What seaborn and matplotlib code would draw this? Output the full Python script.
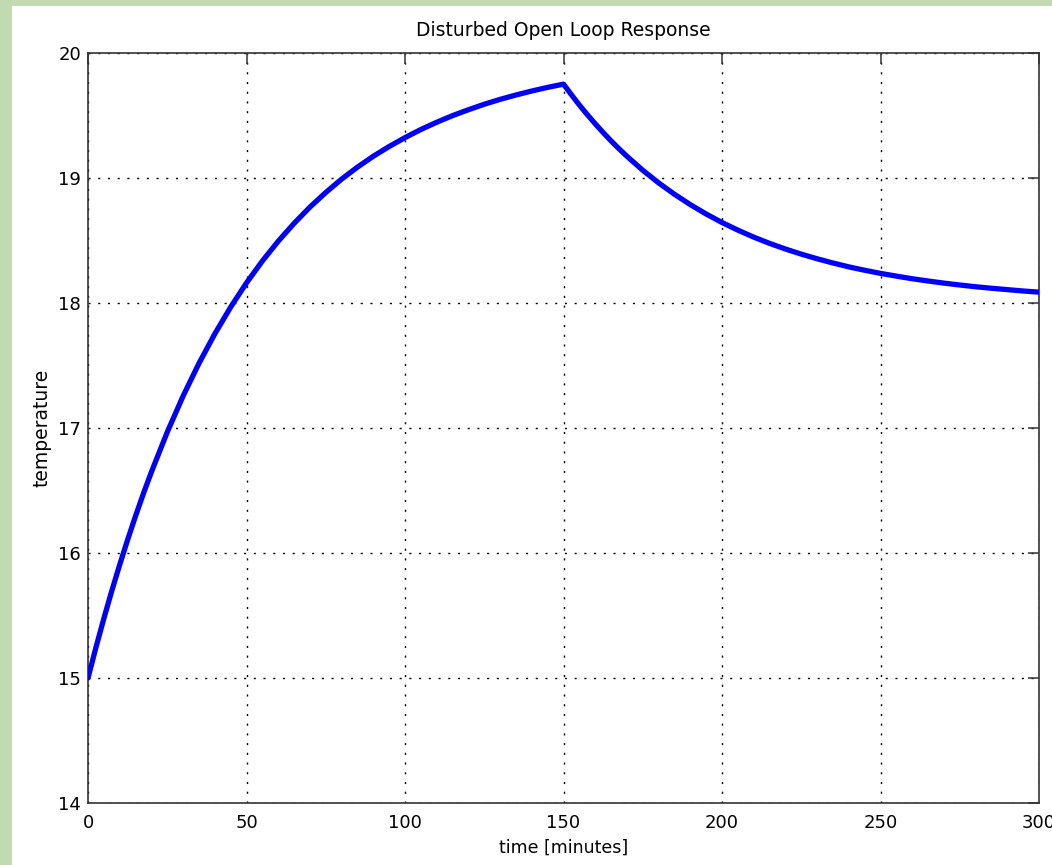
import numpy as np
import pandas as pd
import matplotlib
matplotlib.use("Agg")
import matplotlib.pyplot as plt
from matplotlib.patches import Rectangle
import seaborn as sns

# Open-loop temperature response: heating until t=150, then disturbance decay
time_min = [0, 2.5, 5, 7.5, 10, 12.5, 15, 17.5, 20, 25, 30, 35, 40, 45, 50, 55, 60,
            65, 70, 75, 80, 85, 90, 95, 100, 105, 110, 115, 120, 125, 130, 135,
            140, 145, 150, 152.5, 155, 157.5, 160, 162.5, 165, 167.5, 170, 175,
            180, 185, 190, 195, 200, 205, 210, 215, 220, 225, 230, 235, 240, 245,
            250, 255, 260, 265, 270, 275, 280, 285, 290, 295, 300]
temperature = [15.000, 15.244, 15.476, 15.697, 15.906, 16.106, 16.296, 16.477,
               16.648, 16.967, 17.256, 17.517, 17.753, 17.967, 18.161, 18.336,
               18.494, 18.637, 18.767, 18.884, 18.991, 19.087, 19.174, 19.252,
               19.323, 19.388, 19.446, 19.499, 19.546, 19.590, 19.629, 19.664,
               19.696, 19.725, 19.751, 19.666, 19.584, 19.507, 19.434, 19.364,
               19.297, 19.234, 19.174, 19.062, 18.961, 18.870, 18.787, 18.712,
               18.644, 18.583, 18.527, 18.477, 18.432, 18.391, 18.354, 18.320,
               18.289, 18.262, 18.237, 18.215, 18.194, 18.176, 18.159, 18.144,
               18.130, 18.118, 18.107, 18.096, 18.087]

x_ticks = [0, 50, 100, 150, 200, 250, 300]
y_ticks = [14, 15, 16, 17, 18, 19, 20]

title = "Disturbed Open Loop Response"
x_label = "time [minutes]"
y_label = "temperature"

sns.set_style("white")
plt.rcParams["font.family"] = ["DejaVu Sans"]
plt.rcParams["text.color"] = "black"
plt.rcParams["axes.labelcolor"] = "black"

W, H = 1052, 865
fig = plt.figure(figsize=(W / 100, H / 100), dpi=100)
fig.patch.set_facecolor("#c2dab2")
# white slide panel
fig.add_artist(Rectangle((12 / W, 0), 1, 1 - 6 / H, transform=fig.transFigure,
                         facecolor="white", edgecolor="none", zorder=0))

ax = fig.add_axes([88 / W, 1 - 803 / H, (1039 - 88) / W, (803 - 53) / H])
ax.set_facecolor("white")

df = pd.DataFrame({"time": time_min, "temp": temperature})
sns.lineplot(data=df, x="time", y="temp", ax=ax, color="#0000ff",
             linewidth=3.8, zorder=3)

ax.set_xlim(0, 300)
ax.set_ylim(14, 20)
ax.set_xticks(x_ticks)
ax.set_yticks(y_ticks)
ax.set_xticklabels([str(v) for v in x_ticks])
ax.set_yticklabels([str(v) for v in y_ticks])

ax.grid(True, color="black", linestyle=(0, (1.5, 5.5)), linewidth=1.0)
for s in ax.spines.values():
    s.set_visible(True)
    s.set_color("#333333")
    s.set_linewidth(1.2)

ax.tick_params(axis="both", direction="in", length=8, width=1.1, color="#333333",
               top=True, right=True, labelsize=13, labelcolor="black")
ax.tick_params(axis="x", pad=8)
ax.tick_params(axis="y", pad=5)

ax.set_title(title, fontsize=13.5, pad=12, color="black")
ax.set_xlabel(x_label, fontsize=12.5, labelpad=5, color="black")
ax.set_ylabel(y_label, fontsize=13.5, labelpad=5, color="black")

fig.savefig("out.png", dpi=100, facecolor=fig.get_facecolor())
